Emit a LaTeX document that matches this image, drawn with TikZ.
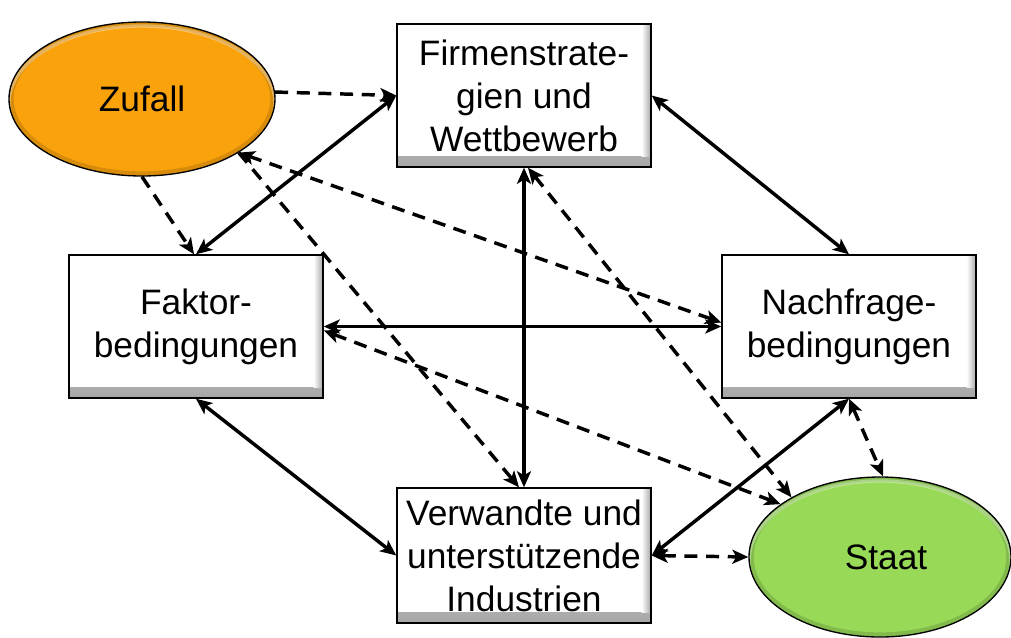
\documentclass[tikz,border=0pt]{standalone}
\usepackage{fontspec}
\setmainfont{Liberation Sans}
\usetikzlibrary{arrows.meta,calc,shapes.geometric}
\definecolor{zufallorange}{RGB}{250,162,12}
\definecolor{staatgreen}{RGB}{152,218,88}
\begin{document}
\begin{tikzpicture}[x=0.75pt,y=-0.75pt,
  labelfont/.style={font=\fontsize{26.5}{32.25}\selectfont},
  bevelbox/.style={draw=black, line width=1.1pt, fill=white,
    minimum width=190.5pt, minimum height=107.25pt, inner sep=0pt,
    align=center, labelfont,
    path picture={
      \shade[top color=white, bottom color=black!35]
        ([yshift=8pt]path picture bounding box.south west) rectangle
        (path picture bounding box.south east);
      \shade[left color=white, right color=black!35]
        ([xshift=-7pt]path picture bounding box.north east) rectangle
        ([yshift=8pt]path picture bounding box.south east);
    }},
  oval/.style={ellipse, draw=black, line width=1pt, inner sep=0pt,
    labelfont},
  ovalrim/.style 2 args={path picture={
      \draw[line width=7pt, black, opacity=0.14]
        (path picture bounding box.center) ellipse [x radius=#1, y radius=#2];
      \draw[line width=2.5pt, white, opacity=0.35]
        ([yshift=-3pt]path picture bounding box.center) ellipse [x radius=#1, y radius=#2];
    }},
  arrowtip/.style={Stealth[length=12pt,width=10.5pt,inset=3pt]},
  solidlink/.style={line width=2.6pt, {Stealth[length=12pt,width=10.5pt,inset=3pt]}-{Stealth[length=12pt,width=10.5pt,inset=3pt]}},
  dashlink/.style={line width=2.6pt, dash pattern=on 9.75pt off 6.5pt},
  onehead/.style={-{Stealth[length=12pt,width=10.5pt,inset=3pt]}},
  twoheads/.style={{Stealth[length=12pt,width=10.5pt,inset=3pt]}-{Stealth[length=12pt,width=10.5pt,inset=3pt]}}
]
\useasboundingbox (0,0) rectangle (1011,637);

% the two outside influences
\node[oval, fill=zufallorange, minimum width=199.5pt, minimum height=115.5pt,
  ovalrim={99.75pt}{57.75pt}]
  (Zufall) at (142,99) {Zufall\hspace{11pt}};
\node[oval, fill=staatgreen, minimum width=196.5pt, minimum height=120pt,
  ovalrim={98.25pt}{60pt}]
  (Staat) at (880,557) {\hspace{9pt}Staat};

% the four determinants
\node[bevelbox] (Firmen) at (524,95.5) {Firmenstrate-\\gien und\\Wettbewerb};
\node[bevelbox] (Faktor) at (196,326.5) {Faktor-\\bedingungen};
\node[bevelbox] (Nachfrage) at (849,326.5) {Nachfrage-\\bedingungen};
\node[bevelbox, minimum height=101.25pt] (Verwandte) at (524,555.5)
  {Verwandte und\\unterstützende\\Industrien};

% mutual links between the determinants
\draw[solidlink] (Faktor.north) -- (Firmen.west);
\draw[solidlink] (Firmen.east) -- (Nachfrage.north);
\draw[solidlink] (Firmen.south) -- (Verwandte.north);
\draw[solidlink] (Faktor.east) -- (Nachfrage.west);
\draw[solidlink] (Faktor.south) -- (Verwandte.west);
\draw[solidlink] (Nachfrage.south) -- (Verwandte.east);

% influence of chance
\draw[dashlink, onehead] (Zufall.3) -- (Firmen.west);
\draw[dashlink, onehead] (Zufall.south) -- ($(Faktor.north)+(-2,0)$);
\draw[dashlink, twoheads] (Zufall.-29) -- ($(Nachfrage.west)+(0,-4)$);
\draw[dashlink, onehead] (Zufall.-29) -- ($(Verwandte.north)+(-5,0)$);

% influence of the state
\draw[dashlink, twoheads] ($(Faktor.east)+(0,4)$) -- (Staat.152);
\draw[dashlink, twoheads] ($(Firmen.south)+(4,0)$) -- (Staat.146);
\draw[dashlink, twoheads] (Nachfrage.south) -- ($(Staat.north)+(3,0)$);
\draw[dashlink, twoheads] (Verwandte.east) -- (Staat.west);
\end{tikzpicture}
\end{document}
